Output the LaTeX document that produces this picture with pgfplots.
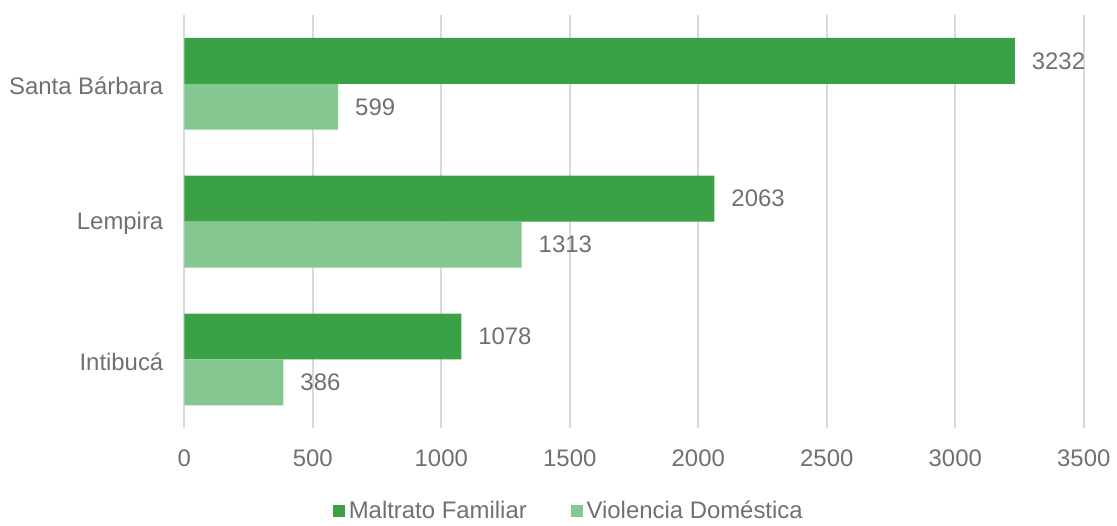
\documentclass[border=0pt]{standalone}
\usepackage{pgfplots}
\pgfplotsset{compat=1.18}
\usepackage{fontspec}
\setmainfont{Liberation Sans}
\definecolor{dg}{RGB}{59,161,70}
\definecolor{lg}{RGB}{132,199,145}
\definecolor{tx}{RGB}{112,112,112}
\definecolor{gr}{RGB}{217,217,217}
\begin{document}
\begin{tikzpicture}
\path (0,0) rectangle (558.5pt,260pt);
\begin{axis}[
  at={(92.5pt,45pt)}, anchor=south west,
  scale only axis, width=451.5pt, height=207.5pt,
  xmin=0, xmax=3500, ymin=-0.5, ymax=2.5,
  xbar, bar width=0.333,
  axis line style={draw=none},
  major tick length=0pt,
  xtick={0,500,...,3500},
  ytick={0,1,2},
  yticklabels={Intibucá, Lempira, Santa Bárbara},
  xmajorgrids, grid style={gr, line width=1pt},
  ticklabel style={font=\fontsize{12pt}{14pt}\selectfont, text=tx},
  /pgf/number format/assume math mode=true,
  /pgf/number format/1000 sep={},
  yticklabel style={xshift=-7pt, yshift=-1pt},
  xticklabel style={yshift=-7pt},
  nodes near coords,
  nodes near coords style={anchor=west, xshift=5pt, font=\fontsize{12pt}{14pt}\selectfont, text=tx, /pgf/number format/1000 sep={}},
  legend columns=2,
  legend style={at={(0.4286,-0.20)}, anchor=center, draw=none, fill=none,
    font=\fontsize{12pt}{14pt}\selectfont, text=tx,
    /tikz/every even column/.append style={column sep=20pt},
    inner sep=0pt},
  legend image code/.code={\fill[#1, draw=none] (0pt,-3pt) rectangle (6pt,3pt);},
]
\addplot[fill=dg, draw=none, bar shift=0.1667] coordinates {(1078,0) (2063,1) (3232,2)};
\addplot[fill=lg, draw=none, bar shift=-0.1667] coordinates {(386,0) (1313,1) (599,2)};
\legend{Maltrato Familiar, Violencia Doméstica}
\end{axis}
\end{tikzpicture}
\end{document}
